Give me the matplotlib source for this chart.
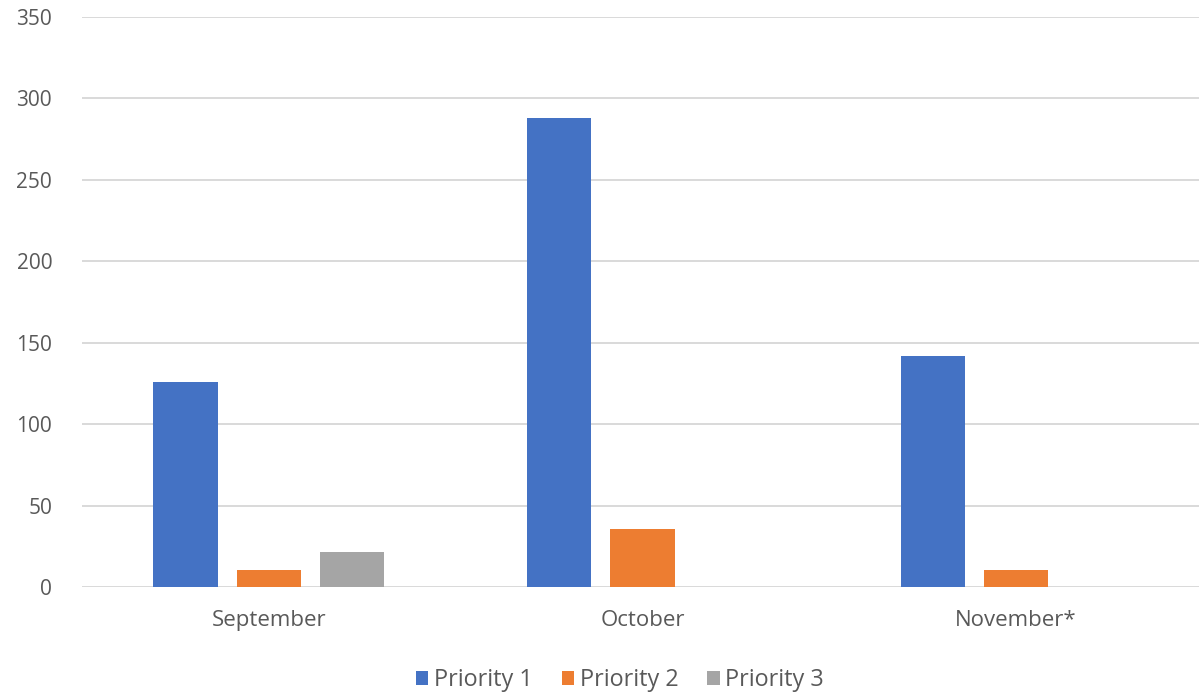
import matplotlib
matplotlib.use("Agg")
import matplotlib.pyplot as plt
import numpy as np

months = ["September", "October", "November*"]
series_names = ["Priority 1", "Priority 2", "Priority 3"]
priority_1 = [126, 288, 142]
priority_2 = [11, 36, 11]
priority_3 = [22, 0, 0]
colors = ["#4472C4", "#ED7D31", "#A5A5A5"]
y_ticks = [0, 50, 100, 150, 200, 250, 300, 350]

plt.rcParams["font.family"] = ["Open Sans", "DejaVu Sans"]
text_color = "#595959"

fig = plt.figure(figsize=(11.99, 6.94), dpi=100)
ax = fig.add_axes([82 / 1199, 0.1535, 1121 / 1199, 0.822])

x = np.arange(len(months))
width = 0.172
step = 0.223
for i, (vals, name, c) in enumerate(zip([priority_1, priority_2, priority_3], series_names, colors)):
    ax.bar(x + (i - 1) * step, vals, width=width, color=c, label=name, zorder=3)

ax.set_xlim(-0.5, 2.5)
ax.set_ylim(0, 350)
ax.set_yticks(y_ticks)
ax.set_xticks(x)
ax.set_xticklabels(months)
ax.yaxis.grid(True, color="#D9D9D9", linewidth=1.4, zorder=0)
ax.set_axisbelow(True)
for s in ax.spines.values():
    s.set_visible(False)
ax.tick_params(axis="both", length=0, colors=text_color)
ax.tick_params(axis="y", pad=21.5, labelsize=15)
ax.tick_params(axis="x", pad=16.5, labelsize=16)

leg = fig.legend(loc="center", bbox_to_anchor=(620 / 1199, 1 - 680 / 694), ncol=3,
                 frameon=False, fontsize=16.8, handlelength=0.52, handleheight=0.52,
                 handletextpad=0.25, columnspacing=1.25)
for t in leg.get_texts():
    t.set_color(text_color)

fig.savefig("out.png", dpi=100)
